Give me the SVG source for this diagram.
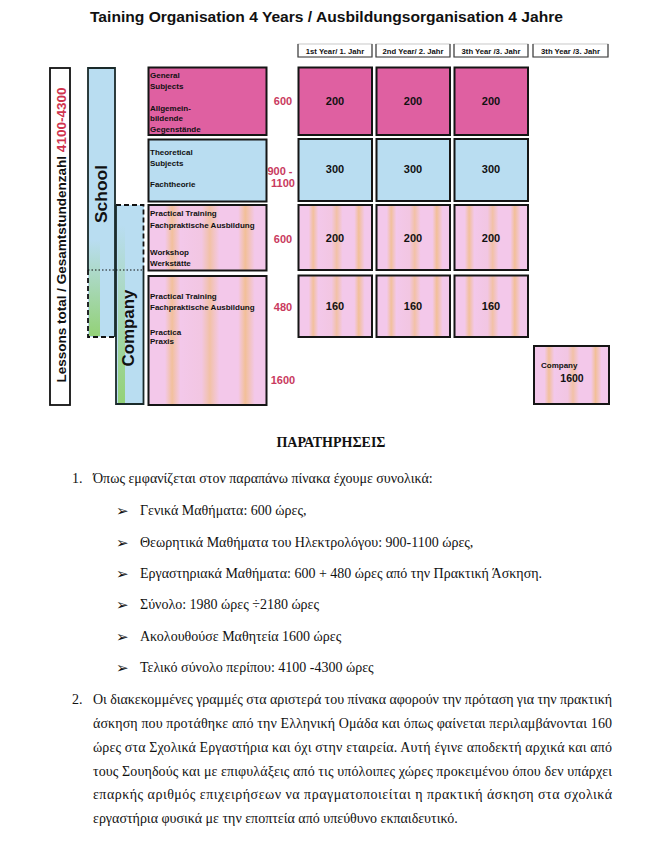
<svg xmlns="http://www.w3.org/2000/svg" width="647" height="842" viewBox="0 0 647 842">
<style>
.sans{font-family:"Liberation Sans",Arial,sans-serif;font-weight:bold;fill:#111}
.serif{font-family:"Liberation Serif","Times New Roman",serif;font-size:14px;fill:#111}
.lbl{font-size:8px}
.num{font-size:11px;text-anchor:middle}
.red{font-family:"Liberation Sans",Arial,sans-serif;font-weight:bold;font-size:11px;fill:#c93a5e;text-anchor:middle}
.hdr{font-size:7.7px;text-anchor:middle}
.box{stroke:#151515;stroke-width:2}
.mag{fill:#df60a1}
.blue{fill:#b9ddf1}
.pink{fill:url(#stripes)}
.bul{font-family:"DejaVu Sans",sans-serif;font-size:15px;fill:#111}
</style>
<defs>
<linearGradient id="stripes" x1="0" y1="0" x2="1" y2="0">
<stop offset="0" stop-color="#f3c8ea"/>
<stop offset="0.14" stop-color="#f3c8ea"/>
<stop offset="0.2" stop-color="#f2c09c"/>
<stop offset="0.27" stop-color="#f3c8ea"/>
<stop offset="0.45" stop-color="#f2c6e2"/>
<stop offset="0.52" stop-color="#f2c1a6"/>
<stop offset="0.6" stop-color="#f3c8ea"/>
<stop offset="0.76" stop-color="#f3c8ea"/>
<stop offset="0.82" stop-color="#f2bf98"/>
<stop offset="0.9" stop-color="#f3c8ea"/>
<stop offset="1" stop-color="#f3c8ea"/>
</linearGradient>
<linearGradient id="green" x1="0" y1="0" x2="0" y2="1">
<stop offset="0" stop-color="#8fd06a" stop-opacity="0"/>
<stop offset="1" stop-color="#8fd06a" stop-opacity="0.9"/>
</linearGradient>
</defs>
<rect width="647" height="842" fill="#fff"/>

<text id="title" class="sans" x="90" y="22" font-size="15.5" textLength="473" lengthAdjust="spacingAndGlyphs">Taining Organisation 4 Years / Ausbildungsorganisation 4 Jahre</text>

<g id="lessons-total">
<rect x="50" y="68" width="20" height="337" fill="#fff" stroke="#111" stroke-width="1.8"/>
<text class="sans" font-size="13.5" text-anchor="middle" transform="translate(65.5,235) rotate(-90)">Lessons total / Gesamtstundenzahl <tspan fill="#d0344f">4100-4300</tspan></text>
</g>

<g id="school">
<rect x="88" y="68" width="27" height="269" class="blue"/>
<rect x="89" y="240" width="11" height="96" fill="url(#green)"/>
<path d="M88 270 V68 H115 V337" fill="none" stroke="#1a2a2a" stroke-width="1.8"/>
<path d="M88 270 V337 H115" fill="none" stroke="#111" stroke-width="1.8" stroke-dasharray="5,3"/>
<text class="sans" font-size="17.4" text-anchor="middle" transform="translate(107,194) rotate(-90)">School</text>
</g>

<g id="company">
<rect x="116" y="205" width="28" height="199" class="blue"/>
<rect x="118" y="225" width="7" height="178" fill="url(#green)"/>
<path d="M116 205 H143.5 V270" fill="none" stroke="#111" stroke-width="1.8" stroke-dasharray="5,3"/>
<path d="M116 205 V404 H143.5 V270" fill="none" stroke="#1a2a2a" stroke-width="1.8"/>
<text class="sans" font-size="16.9" text-anchor="middle" transform="translate(134,328) rotate(-90)">Company</text>
</g>
<line x1="88" y1="270" x2="144" y2="270" stroke="#111" stroke-width="1.2" stroke-dasharray="1.5,2"/>

<g id="row-general">
<rect x="148.5" y="67.5" width="118" height="67.5" class="box mag"/>
<text class="sans lbl" x="150" y="78">General</text>
<text class="sans lbl" x="150" y="89">Subjects</text>
<text class="sans lbl" x="150" y="111">Allgemein-</text>
<text class="sans lbl" x="150" y="121">bildende</text>
<text class="sans lbl" x="150" y="132">Gegenstände</text>
<text class="red" x="283" y="105">600</text>
</g>
<g id="row-theory">
<rect x="148.5" y="139.5" width="118" height="62" class="box blue"/>
<text class="sans lbl" x="150" y="155">Theoretical</text>
<text class="sans lbl" x="150" y="166">Subjects</text>
<text class="sans lbl" x="150" y="187">Fachtheorie</text>
<text class="red" x="280" y="175">900 -</text>
<text class="red" x="283" y="187">1100</text>
</g>
<g id="row-workshop">
<rect x="148.5" y="205" width="118" height="65.5" class="box pink"/>
<text class="sans lbl" x="150" y="216">Practical Training</text>
<text class="sans lbl" x="150" y="228">Fachpraktische Ausbildung</text>
<text class="sans lbl" x="150" y="255">Workshop</text>
<text class="sans lbl" x="150" y="266">Werkstätte</text>
<text class="red" x="283" y="243">600</text>
</g>
<g id="row-practice">
<rect x="148.5" y="276" width="118" height="129" class="box pink"/>
<text class="sans lbl" x="150" y="299">Practical Training</text>
<text class="sans lbl" x="150" y="310">Fachpraktische Ausbildung</text>
<text class="sans lbl" x="150" y="335">Practica</text>
<text class="sans lbl" x="150" y="344">Praxis</text>
<text class="red" x="283" y="311">480</text>
<text class="red" x="283" y="384">1600</text>
</g>

<g id="headers">
<g id="h1"><rect x="298" y="44" width="74" height="13" fill="#fff" stroke="#bbb" stroke-width="0.8"/><path d="M298 44 V57 H372 V44" fill="none" stroke="#444" stroke-width="1.2"/><text class="sans hdr" x="335" y="54">1st Year/ 1. Jahr</text></g>
<g id="h2"><rect x="376" y="44" width="74" height="13" fill="#fff" stroke="#bbb" stroke-width="0.8"/><path d="M376 44 V57 H450 V44" fill="none" stroke="#444" stroke-width="1.2"/><text class="sans hdr" x="413" y="54">2nd Year/ 2. Jahr</text></g>
<g id="h3"><rect x="454" y="44" width="74" height="13" fill="#fff" stroke="#bbb" stroke-width="0.8"/><path d="M454 44 V57 H528 V44" fill="none" stroke="#444" stroke-width="1.2"/><text class="sans hdr" x="491" y="54">3th Year /3. Jahr</text></g>
<g id="h4"><rect x="533" y="44" width="75" height="13" fill="#fff" stroke="#bbb" stroke-width="0.8"/><path d="M533 44 V57 H608 V44" fill="none" stroke="#444" stroke-width="1.2"/><text class="sans hdr" x="570.5" y="54">3th Year /3. Jahr</text></g>
</g>

<g id="cells-general">
<g id="c11"><rect x="298.5" y="67.5" width="73.5" height="67.5" class="box mag"/><text class="sans num" x="335" y="105">200</text></g>
<g id="c12"><rect x="376.5" y="67.5" width="73.5" height="67.5" class="box mag"/><text class="sans num" x="413" y="105">200</text></g>
<g id="c13"><rect x="454.5" y="67.5" width="73.5" height="67.5" class="box mag"/><text class="sans num" x="491" y="105">200</text></g>
</g>
<g id="cells-theory">
<g id="c21"><rect x="298.5" y="139" width="73.5" height="62" class="box blue"/><text class="sans num" x="335" y="173">300</text></g>
<g id="c22"><rect x="376.5" y="139" width="73.5" height="62" class="box blue"/><text class="sans num" x="413" y="173">300</text></g>
<g id="c23"><rect x="454.5" y="139" width="73.5" height="62" class="box blue"/><text class="sans num" x="491" y="173">300</text></g>
</g>
<g id="cells-workshop">
<g id="c31"><rect x="298.5" y="205" width="73.5" height="65" class="box pink"/><text class="sans num" x="335" y="242">200</text></g>
<g id="c32"><rect x="376.5" y="205" width="73.5" height="65" class="box pink"/><text class="sans num" x="413" y="242">200</text></g>
<g id="c33"><rect x="454.5" y="205" width="73.5" height="65" class="box pink"/><text class="sans num" x="491" y="242">200</text></g>
</g>
<g id="cells-practice">
<g id="c41"><rect x="298.5" y="275.5" width="73.5" height="61.5" class="box pink"/><text class="sans num" x="335" y="310">160</text></g>
<g id="c42"><rect x="376.5" y="275.5" width="73.5" height="61.5" class="box pink"/><text class="sans num" x="413" y="310">160</text></g>
<g id="c43"><rect x="454.5" y="275.5" width="73.5" height="61.5" class="box pink"/><text class="sans num" x="491" y="310">160</text></g>
</g>
<g id="company-4th">
<rect x="534" y="346" width="75" height="58" class="box pink"/>
<text class="sans" x="541" y="368" font-size="8">Company</text>
<text class="sans" x="572" y="382" font-size="10.5" text-anchor="middle">1600</text>
</g>

<g id="notes">
<text class="serif" x="331" y="447" font-weight="bold" font-size="13.5" text-anchor="middle">ΠΑΡΑΤΗΡΗΣΕΙΣ</text>
<text class="serif" x="72" y="483">1.</text>
<text class="serif" x="93" y="483">Όπως εμφανίζεται στον παραπάνω πίνακα έχουμε συνολικά:</text>
<text class="bul" x="116" y="516">➢</text><text class="serif" x="140" y="515">Γενικά Μαθήματα: 600 ώρες,</text>
<text class="bul" x="116" y="548">➢</text><text class="serif" x="140" y="547">Θεωρητικά Μαθήματα του Ηλεκτρολόγου: 900-1100 ώρες,</text>
<text class="bul" x="116" y="579">➢</text><text class="serif" x="140" y="578">Εργαστηριακά Μαθήματα: 600 + 480 ώρες από την Πρακτική Άσκηση.</text>
<text class="bul" x="116" y="610">➢</text><text class="serif" x="140" y="609">Σύνολο: 1980 ώρες ÷2180 ώρες</text>
<text class="bul" x="116" y="642">➢</text><text class="serif" x="140" y="641">Ακολουθούσε Μαθητεία 1600 ώρες</text>
<text class="bul" x="116" y="673">➢</text><text class="serif" x="140" y="672">Τελικό σύνολο περίπου: 4100 -4300 ώρες</text>
<text class="serif" x="72" y="704">2.</text>
<text class="serif" x="93" y="704" textLength="519">Οι διακεκομμένες γραμμές στα αριστερά του πίνακα αφορούν την πρόταση για την πρακτική</text>
<text class="serif" x="93" y="728" textLength="519">άσκηση που προτάθηκε από την Ελληνική Ομάδα και όπως φαίνεται περιλαμβάνονται 160</text>
<text class="serif" x="93" y="752" textLength="519">ώρες στα Σχολικά Εργαστήρια και όχι στην εταιρεία. Αυτή έγινε αποδεκτή αρχικά και από</text>
<text class="serif" x="93" y="776" textLength="519">τους Σουηδούς και με επιφυλάξεις από τις υπόλοιπες χώρες προκειμένου όπου δεν υπάρχει</text>
<text class="serif" x="93" y="799" textLength="519">επαρκής αριθμός επιχειρήσεων να πραγματοποιείται η πρακτική άσκηση στα σχολικά</text>
<text class="serif" x="93" y="823">εργαστήρια φυσικά με την εποπτεία από υπεύθυνο εκπαιδευτικό.</text>
</g>
</svg>
